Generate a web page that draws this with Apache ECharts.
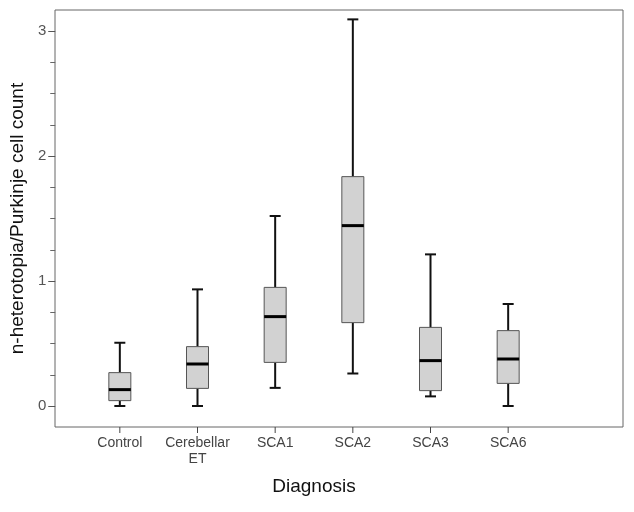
<!DOCTYPE html>
<html>
<head>
<meta charset="utf-8">
<script src="https://cdn.jsdelivr.net/npm/echarts@6/dist/echarts.min.js"></script>
<style>
html,body{margin:0;padding:0;background:#fff;}
#chart{width:634px;height:512px;}
</style>
</head>
<body>
<div id="chart"></div>
<script>
// ---- data ----
const categories = ['Control', 'Cerebellar\nET', 'SCA1', 'SCA2', 'SCA3', 'SCA6'];
const whiskerLow = [0.00, 0.00, 0.145, 0.26, 0.077, 0.00];
const quartile1  = [0.043, 0.141, 0.349, 0.667, 0.123, 0.181];
const medians    = [0.131, 0.336, 0.715, 1.443, 0.363, 0.376];
const quartile3  = [0.267, 0.475, 0.949, 1.835, 0.629, 0.603];
const whiskerHigh= [0.506, 0.933, 1.52, 3.093, 1.213, 0.816];
const yTicks = [0, 1, 2, 3];
const yRange = [-0.168, 3.168];

const seriesData = categories.map((c, i) => [i, whiskerLow[i], quartile1[i], medians[i], quartile3[i], whiskerHigh[i]]);

function renderItem(params, api) {
  const x = api.value(0);
  const pMin = api.coord([x, api.value(1)]);
  const pQ1 = api.coord([x, api.value(2)]);
  const pMed = api.coord([x, api.value(3)]);
  const pQ3 = api.coord([x, api.value(4)]);
  const pMax = api.coord([x, api.value(5)]);
  const pAxis = api.coord([x, yRange[0]]);
  const cx = pMed[0];
  const bw = 22, cw = 11, tickLen = 6;
  const wStyle = { stroke: '#111', lineWidth: 2 };
  return {
    type: 'group',
    children: [
      // category tick below the frame
      { type: 'line', shape: { x1: pAxis[0], y1: pAxis[1], x2: pAxis[0], y2: pAxis[1] + tickLen },
        style: { stroke: '#444', lineWidth: 1 } },
      { type: 'line', shape: { x1: cx, y1: pMin[1], x2: cx, y2: pQ1[1] }, style: wStyle },
      { type: 'line', shape: { x1: cx, y1: pQ3[1], x2: cx, y2: pMax[1] }, style: wStyle },
      { type: 'line', shape: { x1: cx - cw / 2, y1: pMin[1], x2: cx + cw / 2, y2: pMin[1] }, style: wStyle },
      { type: 'line', shape: { x1: cx - cw / 2, y1: pMax[1], x2: cx + cw / 2, y2: pMax[1] }, style: wStyle },
      { type: 'rect', shape: { x: cx - bw / 2, y: pQ3[1], width: bw, height: pQ1[1] - pQ3[1] },
        style: { fill: '#d2d2d2', stroke: '#555', lineWidth: 1 } },
      { type: 'line', shape: { x1: cx - bw / 2, y1: pMed[1], x2: cx + bw / 2, y2: pMed[1] },
        style: { stroke: '#000', lineWidth: 3 } }
    ]
  };
}

const chart = echarts.init(document.getElementById('chart'), null, { renderer: 'canvas' });
const font = "'Liberation Sans', Arial, sans-serif";
chart.setOption({
  animation: false,
  backgroundColor: '#fff',
  textStyle: { fontFamily: font },
  grid: [
    // frame
    { left: 55, top: 10, width: 568, height: 417, show: true, borderColor: '#666', borderWidth: 1, backgroundColor: 'transparent' },
    // y-axis ticks (0..3)
    { left: 55, top: 31, width: 568, height: 375 },
    // boxes + category axis
    { left: 81, top: 10, width: 466, height: 417 }
  ],
  xAxis: [
    { type: 'value', gridIndex: 0, show: false, min: 0, max: 1 },
    { type: 'value', gridIndex: 1, show: false, min: 0, max: 1 },
    {
      type: 'category', gridIndex: 2, data: categories, boundaryGap: true,
      position: 'bottom',
      axisLine: { show: false, onZero: false },
      axisTick: { show: false },
      axisLabel: { color: '#444', fontSize: 14, fontFamily: font, margin: 8, lineHeight: 16, interval: 0 },
      splitLine: { show: false },
      name: 'Diagnosis', nameLocation: 'middle', nameGap: 50,
      nameTextStyle: { color: '#111', fontSize: 19, fontFamily: font }
    }
  ],
  yAxis: [
    { type: 'value', gridIndex: 0, show: false, min: 0, max: 1 },
    {
      type: 'value', gridIndex: 1, min: yTicks[0], max: yTicks[yTicks.length - 1], interval: 1,
      axisLine: { show: true, onZero: false, lineStyle: { color: 'rgba(0,0,0,0)', width: 1 } },
      axisTick: { show: true, length: 7, lineStyle: { color: '#555', width: 1 } },
      minorTick: { show: true, splitNumber: 4, length: 5, lineStyle: { color: '#666', width: 1 } },
      axisLabel: { color: '#555', fontSize: 15, fontFamily: font, margin: 9 },
      splitLine: { show: false },
      name: 'n-heterotopia/Purkinje cell count', nameLocation: 'middle', nameGap: 20,
      nameTextStyle: { color: '#111', fontSize: 19, fontFamily: font }
    },
    { type: 'value', gridIndex: 2, show: false, min: yRange[0], max: yRange[1] }
  ],
  series: [{
    type: 'custom',
    xAxisIndex: 2, yAxisIndex: 2,
    renderItem: renderItem,
    clip: false,
    encode: { x: 0, y: [1, 2, 3, 4, 5] },
    data: seriesData
  }]
});
</script>
</body>
</html>
